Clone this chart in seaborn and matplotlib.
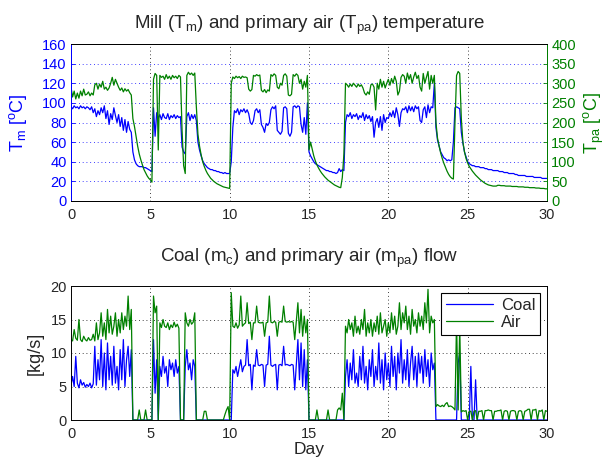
import numpy as np
import pandas as pd
import matplotlib
matplotlib.use("Agg")
import matplotlib.pyplot as plt
import seaborn as sns

# ---------------- data (sampled every 0.1 day) ----------------
day = np.round(np.arange(0, 301) * 0.1, 1)

mill_temp = [
    96, 94, 97, 95, 96, 94, 97, 95, 96, 94,
    96, 95, 93, 96, 90, 94, 86, 92, 88, 95,
    90, 97, 84, 92, 78, 89, 83, 95, 87, 80,
    88, 76, 85, 72, 83, 70, 81, 73, 70, 50,
    42, 38, 36, 35, 35, 35, 34, 34, 33, 32,
    31, 30, 95, 66, 90, 84, 88, 83, 89, 85,
    84, 89, 83, 87, 85, 88, 84, 87, 85, 86,
    55, 50, 48, 86, 90, 82, 88, 84, 88, 82,
    60, 52, 46, 41, 38, 36, 34, 33, 32, 32,
    31, 31, 30, 30, 29, 29, 28, 29, 28, 28,
    28, 40, 75, 92, 90, 94, 88, 93, 91, 94,
    90, 93, 89, 80, 78, 82, 92, 94, 90, 93,
    78, 75, 70, 79, 77, 80, 93, 96, 94, 97,
    72, 70, 68, 71, 95, 96, 94, 69, 66, 70,
    96, 97, 95, 97, 96, 78, 70, 85, 68, 100,
    50, 46, 43, 40, 38, 37, 36, 35, 34, 33,
    32, 31, 31, 30, 30, 29, 29, 28, 29, 33,
    30, 32, 31, 80, 88, 86, 90, 84, 88, 86,
    89, 83, 87, 85, 90, 82, 88, 84, 87, 81,
    86, 65, 80, 84, 75, 86, 72, 88, 80, 85,
    84, 90, 86, 92, 85, 95, 88, 76, 90, 94,
    93, 96, 90, 97, 92, 96, 91, 97, 94, 96,
    82, 80, 93, 96, 85, 98, 90, 96, 95, 120,
    75, 62, 56, 50, 47, 44, 43, 41, 42, 41,
    42, 60, 95, 96, 95, 94, 70, 59, 50, 45,
    40, 38, 37, 36, 36, 35, 35, 35, 34, 34,
    34, 33, 33, 32, 32, 32, 31, 31, 31, 31,
    30, 30, 30, 29, 29, 29, 28, 28, 28, 28,
    27, 27, 26, 26, 26, 26, 26, 25, 25, 25,
    25, 25, 24, 24, 24, 24, 24, 23, 23, 23,
    23,
]

air_temp = [
    290, 265, 280, 260, 275, 262, 280, 268, 285, 270,
    272, 278, 268, 275, 270, 296, 300, 285, 298, 290,
    305, 285, 290, 282, 288, 300, 315, 295, 310, 300,
    290, 282, 288, 278, 286, 280, 284, 276, 270, 210,
    190, 165, 140, 120, 105, 92, 80, 72, 64, 58,
    54, 48, 310, 325, 320, 130, 320, 315, 318, 310,
    322, 312, 318, 310, 320, 314, 318, 312, 320, 316,
    180, 90, 70, 320, 328, 322, 326, 320, 326, 240,
    170, 140, 118, 100, 88, 78, 70, 64, 58, 54,
    50, 47, 44, 42, 40, 38, 36, 35, 34, 33,
    32, 300, 316, 312, 318, 314, 317, 312, 318, 315,
    316, 314, 285, 280, 284, 320, 318, 322, 319, 321,
    282, 278, 284, 276, 283, 280, 322, 318, 324, 320,
    290, 286, 300, 295, 320, 324, 318, 270, 268, 272,
    322, 318, 324, 320, 300, 310, 285, 305, 290, 320,
    130, 150, 132, 115, 102, 92, 84, 77, 71, 66,
    61, 57, 53, 50, 47, 44, 41, 39, 37, 35,
    34, 60, 120, 300, 296, 290, 298, 292, 300, 295,
    290, 298, 292, 296, 288, 275, 270, 278, 272, 296,
    298, 290, 232, 300, 285, 310, 290, 305, 288, 300,
    310, 295, 312, 300, 318, 305, 270, 280, 315, 322,
    318, 300, 326, 310, 322, 300, 316, 328, 312, 320,
    290, 280, 325, 300, 315, 330, 285, 320, 300, 320,
    200, 160, 140, 122, 108, 96, 86, 76, 68, 62,
    58, 56, 200, 320, 330, 325, 210, 150, 125, 108,
    97, 88, 82, 76, 71, 66, 62, 58, 54, 51,
    48, 45, 43, 41, 40, 39, 38, 38, 38, 40,
    40, 39, 39, 39, 38, 38, 38, 38, 37, 37,
    37, 37, 36, 36, 36, 36, 35, 35, 35, 34,
    34, 34, 34, 33, 33, 33, 32, 32, 32, 31,
    31,
]

coal_flow = [
    5.2, 6.5, 5.0, 9.5, 5.5, 4.8, 6.0, 5.2, 5.6, 4.9,
    5.3, 5.0, 5.5, 4.8, 5.4, 11.0, 5.2, 9.0, 6.0, 12.0,
    5.0, 10.0, 4.5, 11.5, 6.0, 9.5, 5.2, 11.0, 5.5, 8.0,
    4.5, 10.5, 6.0, 12.0, 5.0, 9.0, 11.0, 6.5, 10.5, 0,
    0, 0, 0, 0, 0, 0, 0, 0, 0, 0,
    0, 0, 12.0, 4.0, 9.0, 0, 8.0, 6.5, 9.5, 7.0,
    8.0, 5.0, 9.0, 7.5, 8.5, 6.5, 9.0, 7.0, 8.0, 0,
    0, 0, 8.0, 10.5, 7.5, 8.5, 6.0, 9.0, 8.0, 0,
    0, 0, 0, 0, 0, 0, 0, 0, 0, 0,
    0, 0, 0, 0, 0, 0, 0, 0, 0, 0,
    0, 0, 7.5, 7.0, 8.0, 6.5, 7.8, 9.0, 7.2, 8.0,
    8.2, 12.0, 8.1, 8.3, 4.5, 8.2, 8.0, 10.5, 8.2, 8.1,
    8.3, 8.2, 5.0, 8.2, 8.3, 12.5, 8.2, 8.0, 8.2, 8.3,
    4.5, 8.2, 8.3, 8.1, 11.0, 8.2, 8.3, 8.2, 8.1, 8.3,
    8.2, 4.5, 8.3, 12.0, 6.0, 11.5, 5.0, 10.5, 4.5, 9.0,
    0, 0, 0, 0, 0, 0, 0, 0, 0, 0,
    0, 0, 0, 0, 0, 0, 0, 0, 0, 0,
    0, 0, 0, 6.5, 9.0, 5.0, 8.5, 6.0, 10.5, 5.5,
    7.0, 5.0, 9.5, 6.0, 11.0, 5.5, 8.0, 4.5, 9.0, 6.5,
    10.5, 5.0, 8.0, 6.0, 11.5, 5.5, 9.0, 4.5, 10.0, 6.0,
    8.5, 5.0, 11.0, 6.5, 9.5, 4.5, 10.0, 7.0, 12.0, 5.5,
    9.0, 6.0, 10.5, 5.0, 8.5, 11.0, 6.0, 9.5, 5.0, 10.0,
    7.0, 9.5, 5.5, 10.5, 6.5, 9.0, 5.0, 10.0, 7.5, 8.5,
    0, 0, 0, 0, 0, 0, 0, 0, 0, 0,
    0, 0, 0, 0, 8.5, 10.0, 0, 0, 0, 0,
    0, 0, 8.0, 0, 0, 6.0, 0, 0, 0, 0,
    0, 0, 0, 0, 0, 0, 0, 0, 0, 0,
    0, 0, 0, 0, 0, 0, 0, 0, 0, 0,
    0, 0, 0, 0, 0, 0, 0, 0, 0, 0,
    0, 0, 0, 0, 0, 0, 0, 0, 0, 0,
    0,
]

air_flow = [
    12.0, 11.8, 13.5, 12.2, 11.9, 15.0, 12.0, 11.7, 12.5, 12.0,
    11.8, 12.3, 11.9, 12.0, 12.8, 11.8, 14.5, 12.0, 13.0, 16.0,
    12.5, 14.5, 12.0, 16.5, 13.0, 15.5, 12.8, 14.0, 16.0, 12.5,
    15.0, 13.0, 16.0, 13.5, 15.5, 14.0, 18.5, 13.5, 16.5, 0,
    0, 0, 0, 1.5, 0, 0, 0, 1.5, 0, 0,
    0, 0, 18.5, 16.0, 17.0, 0, 14.5, 13.8, 15.0, 14.0,
    13.8, 14.5, 13.5, 14.2, 13.8, 14.6, 13.9, 14.3, 13.7, 0,
    0, 0, 16.0, 14.5, 14.0, 15.0, 14.3, 14.6, 16.0, 0,
    0, 0, 0, 0, 1.3, 1.3, 0, 0, 0, 0,
    0, 0, 0, 0, 0, 0, 0, 0.8, 1.5, 2.0,
    0, 19.0, 14.0, 13.8, 14.5, 13.7, 14.2, 18.5, 14.0, 14.3,
    14.5, 17.5, 14.4, 14.6, 12.0, 14.5, 14.5, 17.0, 14.6, 14.5,
    14.5, 14.6, 12.5, 14.5, 14.6, 18.5, 14.6, 14.5, 14.7, 14.6,
    12.5, 14.6, 14.7, 14.6, 17.0, 14.7, 14.6, 14.7, 14.6, 14.7,
    14.6, 12.0, 14.8, 17.5, 13.0, 16.5, 12.5, 15.5, 13.0, 15.0,
    0, 0, 0, 0, 0, 1.5, 0, 0, 0, 0,
    0, 0, 1.5, 0, 0, 0, 0, 0, 1.5, 1.8,
    1.5, 4.0, 0, 14.0, 13.0, 15.0, 13.5, 14.5, 12.5, 15.5,
    13.0, 14.0, 12.8, 15.0, 13.5, 16.5, 12.5, 14.5, 13.0, 15.0,
    12.5, 14.5, 13.2, 15.5, 12.8, 16.0, 13.0, 14.0, 15.0, 12.5,
    14.5, 13.0, 16.0, 13.5, 15.5, 12.8, 14.0, 17.5, 13.5, 16.0,
    14.5, 17.0, 13.5, 15.5, 12.8, 16.5, 14.0, 15.0, 13.0, 16.0,
    14.0, 15.5, 13.5, 17.5, 14.5, 19.5, 13.0, 15.5, 14.5, 15.0,
    2.0, 2.3, 2.1, 2.0, 2.2, 2.0, 2.4, 2.6, 2.0, 2.1,
    2.0, 1.8, 1.5, 15.0, 1.5, 14.0, 1.2, 1.4, 1.3, 1.4,
    0, 1.3, 1.3, 0, 1.3, 1.4, 0, 1.3, 1.3, 1.4,
    0, 1.4, 1.4, 1.5, 1.4, 1.4, 0, 1.3, 1.3, 1.4,
    1.4, 1.5, 0, 1.3, 1.4, 1.3, 0, 1.3, 1.4, 1.4,
    1.3, 0, 1.3, 1.4, 1.3, 0, 1.3, 1.4, 1.6, 1.6,
    0, 1.5, 1.5, 1.6, 0, 1.4, 1.3, 1.5, 0, 1.4,
    1.3,
]

x_ticks = [0, 5, 10, 15, 20, 25, 30]
tm_ticks = [0, 20, 40, 60, 80, 100, 120, 140, 160]
tpa_ticks = [0, 50, 100, 150, 200, 250, 300, 350, 400]
flow_ticks = [0, 5, 10, 15, 20]

# ---------------- style ----------------
sns.set_style("white")
plt.rcParams["font.family"] = ["Liberation Sans", "DejaVu Sans"]
plt.rcParams["mathtext.fontset"] = "custom"
plt.rcParams["mathtext.rm"] = "Liberation Sans"
plt.rcParams["mathtext.it"] = "Liberation Sans"
FS = 10.5
LFS = 13
TFS = 13.5
BLUE = "#0000ff"
GREEN = "#008000"

df = pd.DataFrame({"day": day, "Tm": mill_temp, "Tpa": air_temp,
                   "coal": coal_flow, "air": air_flow})

fig = plt.figure(figsize=(6.06, 4.63), dpi=100)
W, H = 606, 463

def box(l, t, r, b):
    return [l / W, 1 - b / H, (r - l) / W, (b - t) / H]

def style_axis(ax):
    ax.tick_params(direction="in", length=3, width=0.6, labelsize=FS, pad=3)
    ax.tick_params(axis="x", pad=5)
    for s in ax.spines.values():
        s.set_linewidth(0.7)
        s.set_color("black")

GRID_LS = (0, (1, 3.5))

# ---------------- top panel ----------------
ax1 = fig.add_axes(box(71, 44, 547, 201))
sns.lineplot(data=df, x="day", y="Tm", ax=ax1, color=BLUE, lw=0.9, estimator=None)
ax1.set_xlim(0, 30)
ax1.set_ylim(0, 160)
ax1.set_xticks(x_ticks)
ax1.set_yticks(tm_ticks)
style_axis(ax1)
ax1.tick_params(axis="y", colors=BLUE, labelcolor=BLUE)
ax1.spines["left"].set_color(BLUE)
ax1.set_xlabel("")
ax1.set_ylabel(r"T$_\mathregular{m}$ [$^\mathregular{o}$C]", color=BLUE, fontsize=LFS)
ax1.yaxis.set_label_coords(-0.088, 0.5)
ax1.set_title(r"Mill (T$_\mathregular{m}$) and primary air (T$_\mathregular{pa}$) temperature",
              fontsize=TFS, pad=11)
for y in tm_ticks[1:-1]:
    ax1.axhline(y, color=BLUE, ls=GRID_LS, lw=0.6, zorder=0)
for x in x_ticks[1:-1]:
    ax1.axvline(x, color="black", ls=GRID_LS, lw=0.6, zorder=0)

ax2 = ax1.twinx()
sns.lineplot(data=df, x="day", y="Tpa", ax=ax2, color=GREEN, lw=0.9, estimator=None)
ax2.set_ylim(0, 400)
ax2.set_yticks(tpa_ticks)
style_axis(ax2)
ax2.tick_params(axis="y", colors=GREEN, labelcolor=GREEN)
ax2.spines["right"].set_color(GREEN)
ax2.spines["left"].set_color(BLUE)
ax2.set_ylabel(r"T$_\mathregular{pa}$ [$^\mathregular{o}$C]", color=GREEN, fontsize=LFS)
ax2.yaxis.set_label_coords(1.073, 0.5)

# ---------------- bottom panel ----------------
ax3 = fig.add_axes(box(71, 286, 547, 420))
sns.lineplot(data=df, x="day", y="coal", ax=ax3, color=BLUE, lw=0.9, estimator=None, label="Coal")
sns.lineplot(data=df, x="day", y="air", ax=ax3, color=GREEN, lw=0.9, estimator=None, label="Air")
ax3.set_xlim(0, 30)
ax3.set_ylim(0, 20)
ax3.set_xticks(x_ticks)
ax3.set_yticks(flow_ticks)
style_axis(ax3)
for y in flow_ticks[1:-1]:
    ax3.axhline(y, color="black", ls=GRID_LS, lw=0.6, zorder=0)
for x in x_ticks[1:-1]:
    ax3.axvline(x, color="black", ls=GRID_LS, lw=0.6, zorder=0)
ax3.set_xlabel("Day", fontsize=12.5, labelpad=1)
ax3.set_ylabel("[kg/s]", fontsize=LFS)
ax3.yaxis.set_label_coords(-0.058, 0.5)
ax3.set_title(r"Coal (m$_\mathregular{c}$) and primary air (m$_\mathregular{pa}$) flow",
              fontsize=TFS, pad=17)
leg = ax3.legend(loc="upper right", fontsize=12, frameon=True, fancybox=False,
                 edgecolor="black", framealpha=1, handlelength=2.8,
                 borderaxespad=0.4, labelspacing=0.15, borderpad=0.3,
                 handletextpad=0.5)
leg.get_frame().set_linewidth(0.8)

fig.savefig("out.png", dpi=100)
